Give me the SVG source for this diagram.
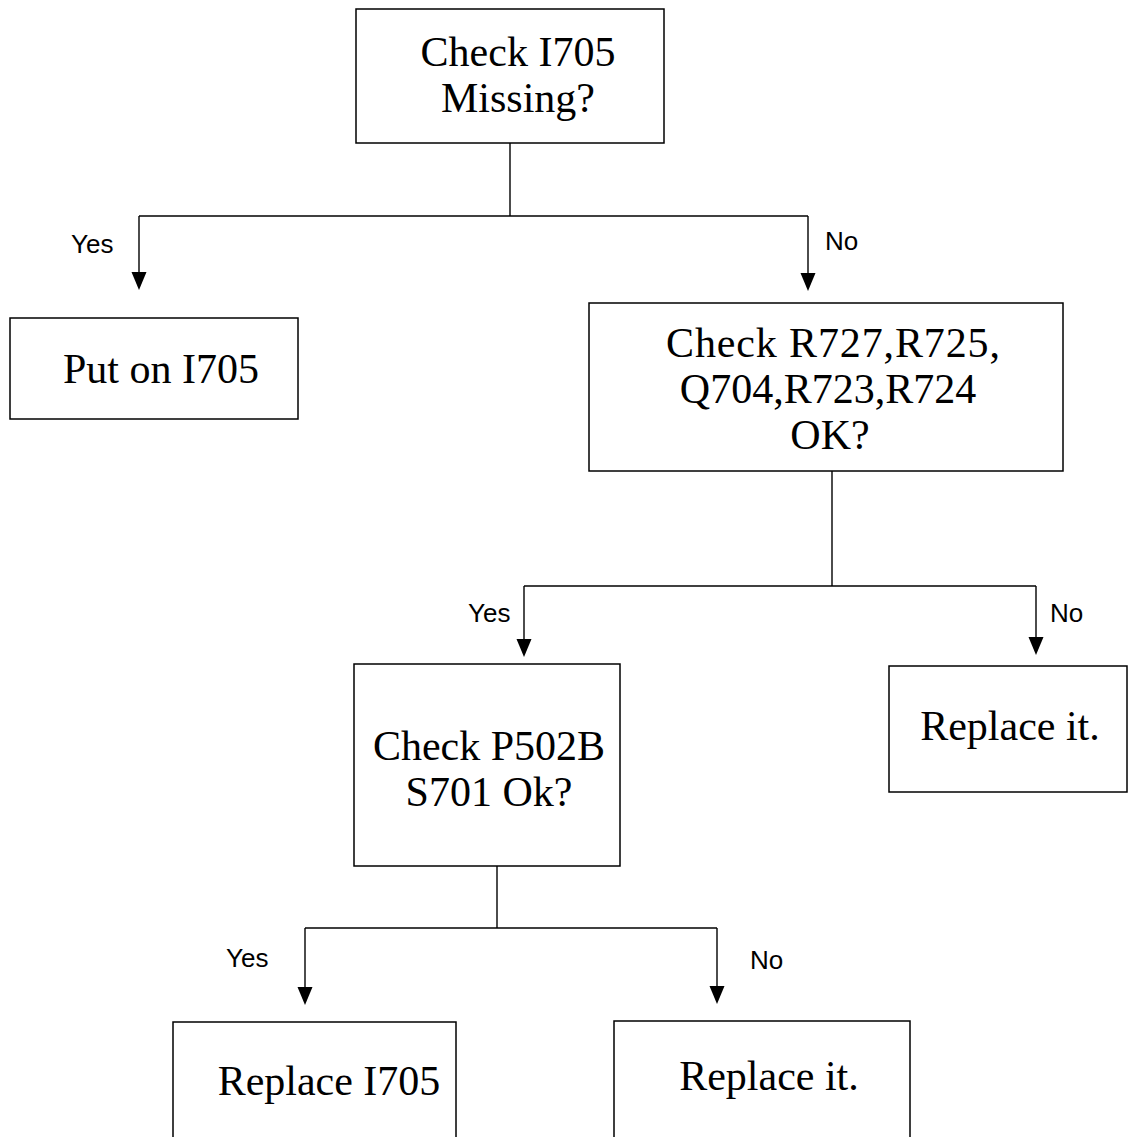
<svg xmlns="http://www.w3.org/2000/svg" width="1129" height="1137" viewBox="0 0 1129 1137">
<style>
.box{fill:#fff;stroke:#000;stroke-width:1.5}
.t{font-family:"Liberation Serif","Times New Roman",serif;font-size:42px;fill:#000;text-anchor:middle}
.lbl{font-family:"Liberation Sans",Arial,sans-serif;font-size:26px;fill:#000}
.ln{fill:none;stroke:#000;stroke-width:1.4}
</style>
<rect width="1129" height="1137" fill="#fff"/>
<g id="connectors">
<path class="ln" d="M510,143 V216"/>
<path class="ln" d="M139,216 H808"/>
<path class="ln" d="M139,216 V272"/>
<path d="M131.5,272 L146.5,272 L139,290 Z"/>
<path class="ln" d="M808,216 V273"/>
<path d="M800.5,273 L815.5,273 L808,291 Z"/>
<text class="lbl" x="71" y="253">Yes</text>
<text class="lbl" x="825" y="250">No</text>

<path class="ln" d="M832,471 V586"/>
<path class="ln" d="M524,586 H1036"/>
<path class="ln" d="M524,586 V639"/>
<path d="M516.5,639 L531.5,639 L524,657 Z"/>
<path class="ln" d="M1036,586 V637"/>
<path d="M1028.5,637 L1043.5,637 L1036,655 Z"/>
<text class="lbl" x="468" y="622">Yes</text>
<text class="lbl" x="1050" y="622">No</text>

<path class="ln" d="M497,866 V928"/>
<path class="ln" d="M305,928 H717"/>
<path class="ln" d="M305,928 V987"/>
<path d="M297.5,987 L312.5,987 L305,1005 Z"/>
<path class="ln" d="M717,928 V986"/>
<path d="M709.5,986 L724.5,986 L717,1004 Z"/>
<text class="lbl" x="226" y="967">Yes</text>
<text class="lbl" x="750" y="969">No</text>
</g>
<g id="n1">
<rect class="box" x="356" y="9" width="308" height="134"/>
<text class="t" x="518" y="66">Check I705</text>
<text class="t" x="518" y="112">Missing?</text>
</g>
<g id="n2">
<rect class="box" x="10" y="318" width="288" height="101"/>
<text class="t" x="161" y="383">Put on I705</text>
</g>
<g id="n3">
<rect class="box" x="589" y="303" width="474" height="168"/>
<text class="t" x="833" y="357" textLength="334">Check R727,R725,</text>
<text class="t" x="828" y="403">Q704,R723,R724</text>
<text class="t" x="830" y="449">OK?</text>
</g>
<g id="n4">
<rect class="box" x="354" y="664" width="266" height="202"/>
<text class="t" x="489" y="760">Check P502B</text>
<text class="t" x="489" y="806">S701 Ok?</text>
</g>
<g id="n5">
<rect class="box" x="889" y="666" width="238" height="126"/>
<text class="t" x="1010" y="740">Replace it.</text>
</g>
<g id="n6">
<rect class="box" x="173" y="1022" width="283" height="130"/>
<text class="t" x="329" y="1095">Replace I705</text>
</g>
<g id="n7">
<rect class="box" x="614" y="1021" width="296" height="130"/>
<text class="t" x="769" y="1090">Replace it.</text>
</g>
</svg>
